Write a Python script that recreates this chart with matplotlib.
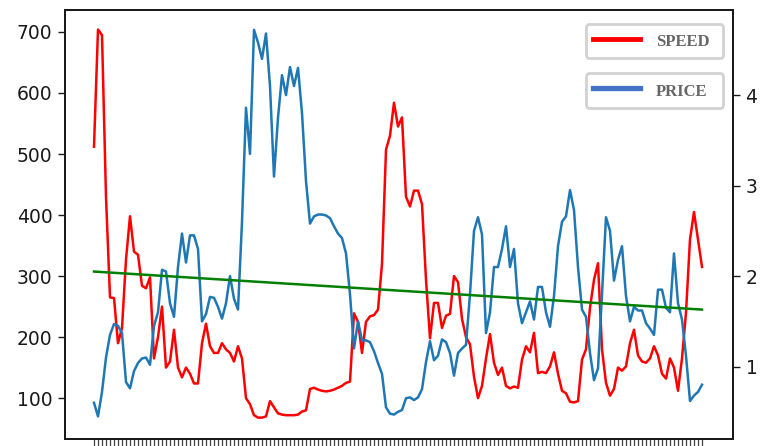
import matplotlib
matplotlib.use("Agg")
import matplotlib.pyplot as plt
from matplotlib.lines import Line2D
import numpy as np

# Daily observations: speed (left axis) and price (right axis)
speed = [
    512, 704, 695, 430, 265, 264, 190, 215, 327, 398,
    340, 335, 284, 280, 298, 165, 200, 250, 150, 160,
    212, 150, 134, 150, 140, 124, 124, 190, 222, 185,
    174, 174, 190, 180, 174, 160, 185, 165, 100, 90,
    72, 68, 68, 70, 95, 85, 75, 73, 72, 72,
    72, 73, 78, 80, 115, 117, 114, 112, 111, 112,
    114, 117, 120, 125, 127, 239, 225, 174, 225, 234,
    236, 245, 320, 507, 530, 584, 545, 560, 430, 414,
    440, 440, 418, 294, 198, 256, 256, 215, 235, 238,
    300, 290, 230, 200, 188, 135, 100, 120, 165, 205,
    158, 138, 150, 120, 116, 119, 117, 163, 185, 175,
    207, 141, 143, 141, 152, 175, 140, 112, 108, 94,
    93, 95, 163, 180, 248, 294, 321, 180, 125, 104,
    115, 150, 145, 152, 190, 212, 170, 160, 158, 165,
    185, 170, 140, 132, 165, 150, 112, 165, 240, 360,
    405, 360, 315,
]

price = [
    0.60, 0.45, 0.72, 1.10, 1.35, 1.47, 1.45, 1.37, 0.83, 0.76,
    0.95, 1.04, 1.09, 1.10, 1.02, 1.45, 1.60, 2.07, 2.05, 1.70,
    1.55, 2.10, 2.47, 2.15, 2.45, 2.45, 2.30, 1.50, 1.58, 1.77,
    1.76, 1.66, 1.53, 1.70, 2.00, 1.75, 1.63, 2.60, 3.86, 3.35,
    4.72, 4.58, 4.40, 4.68, 4.10, 3.10, 3.75, 4.22, 4.00, 4.31,
    4.10, 4.30, 3.80, 3.05, 2.58, 2.66, 2.68, 2.68, 2.67, 2.64,
    2.55, 2.47, 2.42, 2.25, 1.80, 1.20, 1.50, 1.29, 1.29, 1.27,
    1.17, 1.04, 0.92, 0.55, 0.48, 0.47, 0.50, 0.52, 0.65, 0.66,
    0.63, 0.66, 0.75, 1.05, 1.28, 1.07, 1.12, 1.30, 1.27, 1.15,
    0.90, 1.15, 1.20, 1.24, 1.80, 2.50, 2.65, 2.46, 1.37, 1.60,
    2.10, 2.10, 2.30, 2.55, 2.10, 2.30, 1.70, 1.48, 1.60, 1.72,
    1.52, 1.88, 1.88, 1.60, 1.44, 1.78, 2.33, 2.60, 2.66, 2.95,
    2.73, 2.10, 1.63, 1.55, 1.15, 0.85, 0.98, 1.80, 2.65, 2.50,
    1.95, 2.18, 2.33, 1.78, 1.50, 1.66, 1.62, 1.62, 1.48, 1.42,
    1.35, 1.85, 1.85, 1.65, 1.60, 2.25, 1.70, 1.52, 1.12, 0.62,
    0.68, 0.72, 0.80,
]

# Linear trend of price over the period (start and end values)
trend_start = 2.05
trend_end = 1.63

left_ticks = [100, 200, 300, 400, 500, 600, 700]
right_ticks = [1, 2, 3, 4]

days = np.arange(len(speed))

W, H = 761, 446
fig = plt.figure(figsize=(W / 100, H / 100), dpi=100)
ax = fig.add_axes([65 / W, 7 / H, 668 / W, 429 / H])
ax2 = ax.twinx()

ax.plot(days, speed, color="red", lw=1.8)
ax2.plot(days, price, color="#1f77b4", lw=1.8)
ax2.plot([days[0], days[-1]], [trend_start, trend_end], color="green", lw=1.8)

ax.set_xlim(-7.25, len(speed) - 1 + 7.75)
ax.set_ylim(33, 736)
ax2.set_ylim(0.20, 4.94)

ax.set_xticks(days)
ax.set_xticklabels([])
ax.set_yticks(left_ticks)
ax2.set_yticks(right_ticks)

for a in (ax, ax2):
    for s in a.spines.values():
        s.set_linewidth(1.4)
        s.set_color("#1a1a1a")
    a.tick_params(axis="y", labelsize=13.5, length=5, width=1.0, pad=4,
                  colors="#1a1a1a")
ax.tick_params(axis="x", length=6, width=0.9, colors="#444444")


def boxed_legend(color, label, top_px, bottom_px, lw):
    box = (586 / W, 1 - bottom_px / H, 137 / W, (bottom_px - top_px) / H)
    leg = ax2.legend(
        handles=[Line2D([], [], color=color, lw=lw)], labels=[label],
        loc="center", bbox_to_anchor=box, bbox_transform=fig.transFigure,
        mode="expand",
        prop={"family": "Liberation Serif", "size": 12, "weight": "bold"},
        handlelength=2.85, handleheight=1.55, handletextpad=0.95,
        borderpad=0.4, borderaxespad=0,
        frameon=True, fancybox=True, framealpha=1, edgecolor="#d2d2d2",
        labelcolor="#666666",
    )
    leg.get_frame().set_linewidth(2.0)
    return leg


ax2.add_artist(boxed_legend("red", "SPEED", 21, 61, 3.5))
boxed_legend("#4472c4", "PRICE", 71, 110, 3.8)

fig.savefig("out.png", dpi=100)
